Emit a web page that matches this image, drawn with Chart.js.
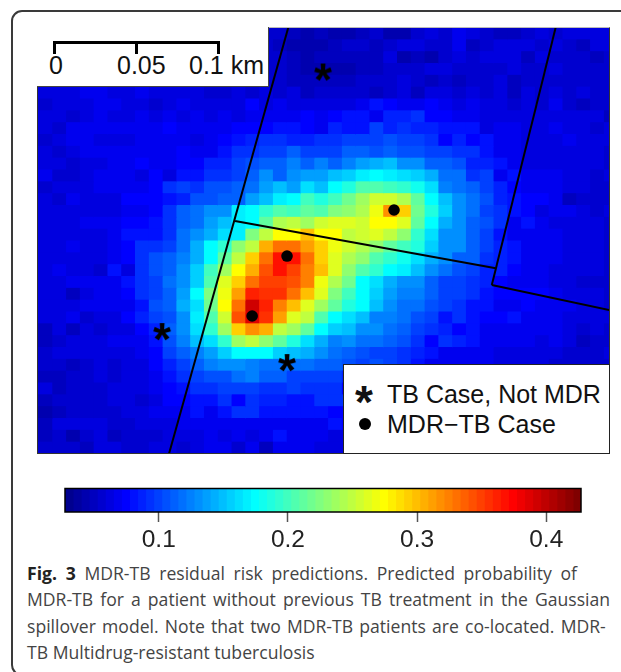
<!DOCTYPE html>
<html>
<head>
<meta charset="utf-8">
<title>MDR-TB residual risk predictions</title>
<script src="https://cdn.jsdelivr.net/npm/chart.js@4"></script>
<style>
    html, body { margin: 0; padding: 0; background: #fff; }
    body { width: 621px; height: 672px; overflow: hidden; position: relative; font-family: "Liberation Sans", sans-serif; color: #111; }
    canvas { position: absolute; }
    .abs { position: absolute; white-space: nowrap; }
    #card { left: 11px; top: 10px; width: 800px; height: 662px; border: 2px solid #3a3a3a; border-radius: 11px; }
    #mapFrame { left: 37px; top: 27px; width: 571px; height: 425px; border: 1px solid #333; border-top-color: #bbb; }
    #scaleBox { left: 37px; top: 27px; width: 231px; height: 59px; background: #fff; border-right: 1px solid #444; border-bottom: 1px solid #444; }
    #legendBox { left: 343px; top: 364px; width: 265px; height: 88px; background: #fff; border: 1.5px solid #222; }
    .sb { background: #000; }
    .t25 { font-size: 25px; line-height: 25px; }
    #caption { left: 27px; top: 560px; font-family: "Open Sans", sans-serif; font-size: 17.6px; line-height: 26.3px; color: #444; }
    #caption b { color: #222; }
</style>
</head>
<body>
<div class="abs" id="card"></div>

<canvas id="mapCanvas" width="571" height="426" style="left:38px;top:28px"></canvas>
<div class="abs" id="mapFrame"></div>

<!-- scale bar inset -->
<div class="abs" id="scaleBox"></div>
<div class="abs sb" style="left:53px;top:41px;width:167px;height:3px"></div>
<div class="abs sb" style="left:53px;top:41px;width:3px;height:13px"></div>
<div class="abs sb" style="left:135px;top:41px;width:3px;height:13px"></div>
<div class="abs sb" style="left:217px;top:41px;width:3px;height:13px"></div>
<div class="abs t25" style="left:49px;top:53px">0</div>
<div class="abs t25" style="left:117px;top:53px">0.05</div>
<div class="abs t25" style="left:189px;top:53px">0.1 km</div>

<!-- legend inset -->
<div class="abs" id="legendBox"></div>
<div class="abs" style="left:355px;top:379px;font-size:46px;line-height:46px;font-weight:bold">*</div>
<div class="abs" style="left:359px;top:418px;width:12px;height:12px;border-radius:50%;background:#000"></div>
<div class="abs t25" style="left:387px;top:382px">TB Case, Not MDR</div>
<div class="abs t25" style="left:387px;top:412px">MDR−TB Case</div>

<canvas id="barCanvas" width="560" height="75" style="left:50px;top:480px"></canvas>

<div class="abs" id="caption"><span style="word-spacing:4.1px"><b>Fig. 3</b> MDR-TB residual risk predictions. Predicted probability of</span><br><span style="word-spacing:2.5px">MDR-TB for a patient without previous TB treatment in the Gaussian</span><br><span style="word-spacing:1.6px">spillover model. Note that two MDR-TB patients are co-located. MDR-</span><br>TB Multidrug-resistant tuberculosis</div>

<script>
"use strict";

const _ = null; // cell hidden behind an inset

// predicted probability x 1000, one row per map row (top to bottom), 42 cells each
const risk00 = [_,_,_,_,_,_,_,_,_,_,_,_,_,_,_,_,56,53,50,44,47,40,44,50,53,40,44,53,62,56,68,59,56,47,47,56,59,56,59,59,59,62];
const risk01 = [_,_,_,_,_,_,_,_,_,_,_,_,_,_,_,_,53,50,40,44,44,50,53,53,47,56,62,59,56,56,68,47,56,62,62,59,56,59,56,47,62,59];
const risk02 = [_,_,_,_,_,_,_,_,_,_,_,_,_,_,_,_,53,53,47,44,47,50,47,47,47,59,40,50,44,53,62,56,59,59,59,47,62,56,56,56,50,53];
const risk03 = [_,_,_,_,_,_,_,_,_,_,_,_,_,_,_,_,53,53,47,44,40,44,44,50,50,53,56,56,59,59,56,56,53,56,59,56,56,59,56,56,56,56];
const risk04 = [_,_,_,_,_,_,_,_,_,_,_,_,_,_,_,_,56,56,50,47,47,50,50,53,53,56,59,56,47,53,50,56,53,59,50,56,53,56,53,56,56,56];
const risk05 = [62,59,59,65,65,62,62,65,62,62,62,62,56,53,62,56,62,53,62,50,53,53,53,53,50,56,62,47,62,62,56,59,56,62,50,59,56,59,56,59,56,56];
const risk06 = [56,62,62,62,65,65,62,62,53,62,65,59,62,62,62,74,62,65,62,59,59,59,62,65,80,74,65,71,74,65,59,65,59,59,56,59,56,68,56,47,53,56];
const risk07 = [62,62,56,59,65,59,62,65,62,68,62,65,62,65,62,65,68,68,71,74,71,74,80,80,71,87,87,93,74,74,65,71,62,59,59,59,59,62,59,62,59,50];
const risk08 = [62,56,65,65,65,65,65,65,65,74,65,68,68,71,74,74,74,80,80,74,68,87,80,80,99,87,93,87,87,80,80,80,59,71,65,62,59,65,59,59,56,59];
const risk09 = [56,62,65,65,62,62,62,65,65,65,68,62,68,74,80,87,93,93,87,87,93,93,99,99,99,105,99,99,93,74,87,74,80,68,65,62,62,62,68,59,59,59];
const risk10 = [62,56,62,65,65,65,65,65,65,68,74,71,71,80,93,93,99,99,112,99,99,99,112,112,105,112,105,105,99,99,93,93,80,71,65,62,59,59,59,59,59,56];
const risk11 = [59,59,53,59,62,65,65,74,65,65,74,74,87,87,99,105,112,112,124,112,124,112,124,137,143,149,130,130,112,112,105,87,87,80,65,62,59,62,59,59,59,56];
const risk12 = [68,56,56,59,68,68,68,62,74,62,80,80,93,93,99,112,130,112,130,137,137,149,155,168,174,168,162,155,143,118,118,93,99,65,80,68,68,68,62,62,56,59];
const risk13 = [56,59,62,62,65,65,65,65,74,93,99,93,105,105,112,118,137,149,137,162,149,174,187,205,205,199,193,180,162,124,118,112,99,87,74,71,71,68,59,59,56,56];
const risk14 = [59,56,68,62,62,59,74,74,74,80,87,105,105,112,112,137,149,168,174,199,187,199,218,237,255,255,243,212,174,149,130,118,105,87,80,74,74,65,50,56,56,56];
const risk15 = [59,62,62,62,62,62,65,71,74,93,112,118,130,130,168,174,193,205,199,212,205,224,230,243,268,318,293,218,187,155,130,118,99,93,80,74,62,71,65,59,56,59];
const risk16 = [62,62,59,65,68,71,74,74,80,93,112,118,137,149,168,174,212,243,249,237,255,262,262,255,274,274,262,212,174,143,130,112,105,93,71,80,68,62,62,59,59,56];
const risk17 = [62,59,59,62,62,68,80,80,80,93,118,130,143,162,168,224,249,274,274,299,274,274,249,255,262,249,230,193,162,130,130,112,99,80,71,68,71,65,62,62,59,56];
const risk18 = [59,59,65,62,62,68,74,93,93,99,118,143,174,193,230,249,305,330,330,312,293,265,255,243,230,212,199,187,155,130,130,112,99,87,80,68,65,65,62,62,59,56];
const risk19 = [59,59,62,62,62,68,74,93,105,112,124,143,174,212,249,290,330,368,368,330,293,262,240,230,205,193,180,162,143,130,112,112,93,87,80,71,68,65,62,59,59,56];
const risk20 = [59,68,62,62,53,80,62,93,105,112,130,155,199,237,274,305,343,368,349,324,299,262,230,205,193,174,168,149,130,118,105,99,87,87,74,71,65,62,62,59,59,56];
const risk21 = [59,59,65,65,68,68,80,93,99,118,130,155,205,262,293,330,349,349,343,324,270,240,218,174,162,143,130,130,112,99,99,93,87,74,68,68,65,62,62,56,56,56];
const risk22 = [59,59,50,59,65,65,74,93,99,112,137,174,224,268,312,362,355,355,330,299,259,227,201,174,155,137,124,124,112,99,99,93,80,74,74,74,74,68,62,62,59,53];
const risk23 = [59,59,62,65,68,68,68,80,105,112,143,162,218,274,330,393,362,324,299,262,237,212,187,174,149,130,118,118,105,99,93,80,80,68,71,74,65,65,65,59,59,56];
const risk24 = [59,59,68,56,59,62,74,87,99,105,130,168,205,255,343,387,355,312,262,249,205,174,162,149,124,124,118,105,99,80,93,80,74,74,80,68,68,65,62,59,62,62];
const risk25 = [50,59,47,59,56,62,62,74,87,112,130,162,193,237,293,318,305,249,237,212,174,155,149,130,130,118,112,99,93,87,74,80,71,71,71,68,65,65,62,53,59,56];
const risk26 = [50,56,59,59,62,65,65,65,80,105,124,149,160,193,237,249,230,212,187,162,143,124,130,118,118,112,105,93,74,93,87,80,68,71,68,65,62,65,59,50,56,56];
const risk27 = [56,59,59,59,59,62,62,68,74,99,112,124,137,155,174,174,174,155,149,143,130,118,112,105,99,99,93,87,80,71,71,68,68,59,62,62,59,59,56,56,53,59];
const risk28 = [56,56,47,56,59,56,59,59,74,87,99,112,124,130,130,124,118,118,118,118,112,112,105,99,105,99,93,80,71,71,68,65,65,62,62,59,59,56,56,56,56,56];
const risk29 = [47,47,56,56,62,56,59,59,65,80,93,99,105,105,118,124,112,112,99,99,99,99,87,_,_,_,_,_,_,_,_,_,_,_,_,_,_,_,_,_,_,_];
const risk30 = [62,47,56,56,56,59,59,59,65,74,80,93,93,99,99,99,93,93,99,93,93,93,74,_,_,_,_,_,_,_,_,_,_,_,_,_,_,_,_,_,_,_];
const risk31 = [50,56,56,56,56,62,59,53,62,74,74,80,80,93,74,93,87,87,80,80,93,93,93,_,_,_,_,_,_,_,_,_,_,_,_,_,_,_,_,_,_,_];
const risk32 = [40,47,56,56,56,53,59,59,68,65,68,80,68,80,93,93,80,80,80,80,80,74,74,_,_,_,_,_,_,_,_,_,_,_,_,_,_,_,_,_,_,_];
const risk33 = [50,59,59,59,62,56,53,59,62,62,68,65,68,68,68,68,71,71,71,71,71,80,74,_,_,_,_,_,_,_,_,_,_,_,_,_,_,_,_,_,_,_];
const risk34 = [50,56,44,56,59,47,56,56,56,62,62,62,65,62,68,62,68,80,68,65,65,62,62,_,_,_,_,_,_,_,_,_,_,_,_,_,_,_,_,_,_,_];
const risk35 = [53,53,53,50,59,62,56,56,62,62,56,59,65,68,53,65,50,68,68,65,62,62,62,_,_,_,_,_,_,_,_,_,_,_,_,_,_,_,_,_,_,_];

const riskRows = [risk00,risk01,risk02,risk03,risk04,risk05,risk06,risk07,risk08,risk09,risk10,risk11,
    risk12,risk13,risk14,risk15,risk16,risk17,risk18,risk19,risk20,risk21,risk22,risk23,
    risk24,risk25,risk26,risk27,risk28,risk29,risk30,risk31,risk32,risk33,risk34,risk35];

// map features, in grid cell units (x = column, y = row)
const notMdrCases = [{x: 20.67, y: 3.85}, {x: 9.0, y: 25.78}, {x: 18.06, y: 28.4}];
const mdrCases = [{x: 25.82, y: 15.38}, {x: 18.06, y: 19.27}, {x: 15.53, y: 24.34}];
const boundaryA = [{x: 18.16, y: -0.08}, {x: 9.51, y: 35.93}];
const boundaryB = [{x: 14.29, y: 16.31}, {x: 33.2, y: 20.31}];
const boundaryC = [{x: 37.55, y: -0.08}, {x: 32.91, y: 21.72}];
const boundaryD = [{x: 32.91, y: 21.72}, {x: 41.44, y: 23.84}];

// colour bar
const barMin = 0.0274;
const barMax = 0.4269;
const barTicks = [0.1, 0.2, 0.3, 0.4];
const palette = [
    "#00008F","#00009F","#0000AF","#0000BF","#0000CF","#0000DF","#0000EF","#0000FF",
    "#0010FF","#0020FF","#0030FF","#0040FF","#0050FF","#0060FF","#0070FF","#0080FF",
    "#008FFF","#009FFF","#00AFFF","#00BFFF","#00CFFF","#00DFFF","#00EFFF","#00FFFF",
    "#10FFEF","#20FFDF","#30FFCF","#40FFBF","#50FFAF","#60FF9F","#70FF8F","#80FF80",
    "#8FFF70","#9FFF60","#AFFF50","#BFFF40","#CFFF30","#DFFF20","#EFFF10","#FFFF00",
    "#FFEF00","#FFDF00","#FFCF00","#FFBF00","#FFAF00","#FF9F00","#FF8F00","#FF8000",
    "#FF7000","#FF6000","#FF5000","#FF4000","#FF3000","#FF2000","#FF1000","#FF0000",
    "#EF0000","#DF0000","#CF0000","#BF0000","#AF0000","#9F0000","#8F0000","#800000"
];
const barStep = (barMax - barMin) / palette.length;

function riskColor(value) {
    let idx = Math.floor((value / 1000 - barMin) / barStep);
    return palette[Math.max(0, Math.min(palette.length - 1, idx))];
}

Chart.defaults.animation = false;
Chart.defaults.responsive = false;
Chart.defaults.devicePixelRatio = 1;
Chart.defaults.font.family = '"Liberation Sans", sans-serif';
Chart.defaults.plugins.legend.display = false;
Chart.defaults.plugins.tooltip.enabled = false;

function starImage() {
    // the case marker is a plain text asterisk, so paint it once and use it as point style
    let img = document.createElement("canvas");
    img.width = 30;
    img.height = 30;
    let ctx = img.getContext("2d");
    ctx.fillStyle = "#000";
    ctx.font = 'bold 46px "Liberation Sans"';
    ctx.textAlign = "center";
    ctx.fillText("*", 15, 37);
    return img;
}

function boundaryDataset(points) {
    return { type: "scatter", data: points, xAxisID: "x", yAxisID: "yMap", showLine: true, pointRadius: 0, borderColor: "#000", borderWidth: 2, order: 1 };
}

// every map column is one dataset of floating bars, coloured cell by cell
let cellDatasets = [];
for (let k = 0; k < 42; k++) {
    cellDatasets.push({
        type: "bar",
        data: riskRows.map(row => (row[k] == null ? null : [k, k + 1])),
        backgroundColor: riskRows.map(row => (row[k] == null ? "#fff" : riskColor(row[k]))),
        xAxisID: "x",
        yAxisID: "y",
        barPercentage: 1,
        categoryPercentage: 1,
        grouped: false,
        inflateAmount: 0.5,
        order: 2
    });
}

new Chart(document.getElementById("mapCanvas"), {
    type: "bar",
    data: {
        labels: riskRows.map((row, i) => "row " + i),
        datasets: [
            { type: "scatter", data: mdrCases, xAxisID: "x", yAxisID: "yMap", pointStyle: "circle", pointRadius: 5.8, backgroundColor: "#000", borderWidth: 0, order: 0 },
            { type: "scatter", data: notMdrCases, xAxisID: "x", yAxisID: "yMap", pointStyle: starImage(), order: 0 },
            boundaryDataset(boundaryA),
            boundaryDataset(boundaryB),
            boundaryDataset(boundaryC),
            boundaryDataset(boundaryD)
        ].concat(cellDatasets)
    },
    options: {
        datasets: { bar: { indexAxis: "y" } },
        layout: { padding: 0, autoPadding: false },
        scales: {
            x: { axis: "x", type: "linear", min: 0, max: 41.41, offset: false, display: false },
            y: { axis: "y", type: "category", offset: true, display: false },
            // offset has to stay off here or the features no longer line up with the cells
            yMap: { axis: "y", type: "linear", min: 0, max: 36, reverse: true, offset: false, display: false }
        }
    }
});

// black outline round the colour bar
const barFrame = {
    id: "barFrame",
    afterDraw(chart) {
        let a = chart.chartArea;
        let ctx = chart.ctx;
        ctx.save();
        ctx.strokeStyle = "#000";
        ctx.lineWidth = 1.5;
        ctx.strokeRect(a.left, a.top, a.right - a.left, a.bottom - a.top);
        ctx.restore();
    }
};

new Chart(document.getElementById("barCanvas"), {
    type: "bar",
    data: {
        labels: ["risk"],
        datasets: palette.map((color, i) => ({
            data: [[barMin + i * barStep, barMin + (i + 1) * barStep]],
            backgroundColor: color,
            barPercentage: 1,
            categoryPercentage: 1,
            grouped: false,
            inflateAmount: 0.5
        }))
    },
    options: {
        indexAxis: "y",
        layout: { padding: { left: 15, right: 29, top: 8.5, bottom: 0 } },
        scales: {
            x: {
                type: "linear",
                min: barMin,
                max: barMax,
                afterBuildTicks: scale => { scale.ticks = barTicks.map(v => ({ value: v })); },
                afterFit: scale => { scale.height = 43; },
                grid: { display: true, drawOnChartArea: false, drawTicks: true, tickLength: 10, tickColor: "#555", tickWidth: 1.5 },
                border: { display: false },
                ticks: { autoSkip: false, maxRotation: 0, padding: 4, color: "#222", font: { size: 24.5 }, callback: v => v.toFixed(1) }
            },
            y: { display: false, offset: true }
        }
    },
    plugins: [barFrame]
});
</script>
</body>
</html>
